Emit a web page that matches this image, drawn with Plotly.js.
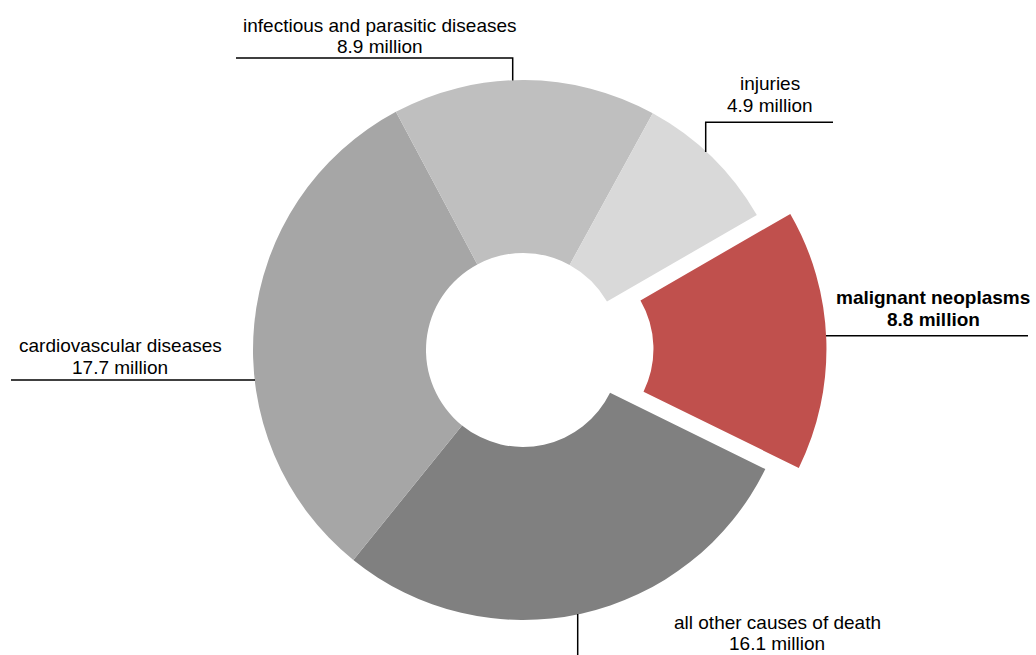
<!DOCTYPE html>
<html>
<head>
<meta charset="utf-8">
<script src="https://cdn.plot.ly/plotly-3.0.1.min.js"></script>
<style>
  html, body { margin: 0; padding: 0; background: #fff; }
  #chart { width: 1036px; height: 655px; }
</style>
</head>
<body>
<div id="chart"></div>
<script>
// Global deaths by cause (millions)
const causes = [
  'malignant neoplasms',
  'all other causes of death',
  'cardiovascular diseases',
  'infectious and parasitic diseases',
  'injuries'
];
const deaths = [8.8, 16.1, 17.7, 8.9, 4.9];
const valueUnit = 'million';
const highlightCause = 'malignant neoplasms';

// Styling
const sliceColors = ['#C0504D', '#808080', '#A6A6A6', '#BFBFBF', '#D9D9D9'];
const slicePull = causes.map(c => (c === highlightCause ? 0.124 : 0));

const W = 1036, H = 655;
const px = x => x / W;
const py = y => 1 - y / H;

// Label placement in page pixels: text centre x, centre y of each text line,
// and the leader line running out to the ring.
const labelPlacement = {
  'malignant neoplasms':              { x: 933, y: [297.4, 319.4], leader: [[826, 335.7], [1028, 335.7]] },
  'all other causes of death':        { x: 777, y: [622.4, 643.4], leader: [[577.7, 614], [577.7, 656]] },
  'cardiovascular diseases':          { x: 120, y: [345.4, 367.4], leader: [[11, 380], [255, 380]] },
  'infectious and parasitic diseases':{ x: 380, y: [25.4, 46.4],   leader: [[236, 58], [512.7, 58], [512.7, 80.5]] },
  'injuries':                         { x: 770, y: [83.4, 105.4],  leader: [[833, 122.3], [705.7, 122.3], [705.7, 152]] }
};

// Ring geometry: centre, outer radius
const ringCx = 523, ringCy = 350, ringR = 270, holeR = 97;
const maxPull = Math.max(...slicePull);
const half = ringR * (1 + maxPull);

const trace = {
  type: 'pie',
  labels: causes,
  values: deaths,
  sort: false,
  direction: 'clockwise',
  rotation: 60,
  hole: holeR / ringR,
  pull: slicePull,
  marker: { colors: sliceColors, line: { width: 0 } },
  textinfo: 'none',
  hoverinfo: 'label+value',
  showlegend: false,
  domain: {
    x: [px(ringCx - half), px(ringCx + half)],
    y: [py(ringCy + half), py(ringCy - half)]
  }
};

const font = { family: '"Liberation Sans", Arial, sans-serif', size: 19, color: '#000000' };
const annotations = [];
const shapes = [];
causes.forEach((c, i) => {
  const p = labelPlacement[c];
  const bold = c === highlightCause;
  const lines = [c, deaths[i].toFixed(1) + ' ' + valueUnit];
  lines.forEach((t, k) => {
    annotations.push({
      xref: 'paper', yref: 'paper',
      x: px(p.x), y: py(p.y[k]),
      xanchor: 'center', yanchor: 'middle',
      showarrow: false,
      text: bold ? '<b>' + t + '</b>' : t,
      font: font
    });
  });
  const d = p.leader.map((pt, k) => (k ? 'L' : 'M') + px(pt[0]) + ',' + py(pt[1])).join(' ');
  shapes.push({
    type: 'path', xref: 'paper', yref: 'paper', path: d,
    line: { color: '#000000', width: 1.5 }
  });
});

const layout = {
  width: W, height: H,
  margin: { l: 0, r: 0, t: 0, b: 0 },
  paper_bgcolor: '#ffffff',
  plot_bgcolor: '#ffffff',
  showlegend: false,
  annotations: annotations,
  shapes: shapes,
  font: font
};

Plotly.newPlot('chart', [trace], layout, { displayModeBar: false, staticPlot: true });
</script>
</body>
</html>
